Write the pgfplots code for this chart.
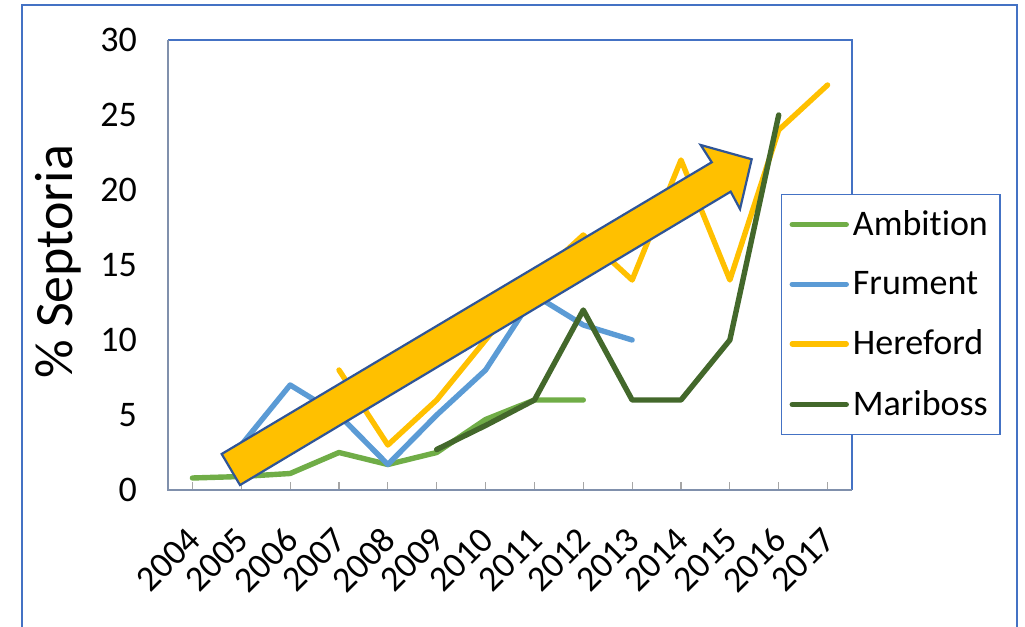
\documentclass[border=0pt]{standalone}
\usepackage{pgfplots}
\pgfplotsset{compat=1.18}
\usepackage{fontspec}
\setmainfont{Carlito}[Ligatures={NoCommon}]

\definecolor{cAmbition}{HTML}{70AD47}
\definecolor{cFrument}{HTML}{5B9BD5}
\definecolor{cHereford}{HTML}{FFC000}
\definecolor{cMariboss}{HTML}{43682B}
\definecolor{frameblue}{HTML}{4472C4}
\definecolor{axisgrey}{HTML}{8090AC}
\definecolor{arrowedge}{HTML}{2F5597}

\begin{document}
\begin{tikzpicture}
\useasboundingbox (0pt,0pt) rectangle (512.5pt,313.5pt);
% outer chart frame
\draw[frameblue, line width=0.8pt] (11pt,-10pt) rectangle (508.5pt,311pt);
\begin{axis}[
  at={(84pt,68.5pt)}, anchor=south west,
  scale only axis, width=342pt, height=225pt,
  xmin=2003.5, xmax=2017.5, ymin=0, ymax=30,
  clip=false,
  axis line style={draw=none},
  xtick={2004,2005,2006,2007,2008,2009,2010,2011,2012,2013,2014,2015,2016,2017},
  xticklabels={2004,2005,2006,2007,2008,2009,2010,2011,2012,2013,2014,2015,2016,2017},
  ytick={0,5,10,15,20,25,30},
  xtick pos=bottom, tick align=inside,
  major tick length=4pt,
  xtick style={draw=black!35, line width=0.6pt},
  ytick style={draw=none},
  tick label style={font=\fontsize{18}{21}\selectfont},
  /pgf/number format/assume math mode=true,
  yticklabel style={anchor=east, xshift=-12pt},
  xticklabel style={xshift=3.2pt, yshift=-19.5pt, rotate=45, anchor=east},
  ylabel={\% Septoria},
  ylabel style={at={(axis description cs:-0.161,0.507)}, anchor=center, font=\fontsize{27}{30}\selectfont},
  legend style={at={(axis description cs:0.896,0.658)}, anchor=north west,
    draw=frameblue, line width=0.7pt, fill=white,
    font=\fontsize{18}{21}\selectfont,
    inner xsep=4pt, inner ysep=6pt, row sep=12.3pt,
    cells={anchor=west}},
  legend image code/.code={\draw[#1, line cap=round] (0pt,0pt) -- (27pt,0pt);},
  every axis plot/.append style={line width=2.7pt, line cap=round, line join=round},
]
% plot-area frame: blue top and right, grey left and bottom
\draw[frameblue, line width=0.7pt] (rel axis cs:0,1) -- (rel axis cs:1,1) -- (rel axis cs:1,0);
\draw[axisgrey, line width=0.9pt] (rel axis cs:0,1) -- (rel axis cs:0,0) -- (rel axis cs:1,0);

\addplot[cAmbition] coordinates {
  (2004,0.8) (2005,0.9) (2006,1.1) (2007,2.5) (2008,1.7) (2009,2.5)
  (2010,4.7) (2011,6) (2012,6)};
\addlegendentry{Ambition}
\addplot[cFrument] coordinates {
  (2005,3) (2006,7) (2007,5) (2008,1.7) (2009,5) (2010,8)
  (2011,13) (2012,11) (2013,10)};
\addlegendentry{Frument}
\addplot[cHereford] coordinates {
  (2007,8) (2008,3) (2009,6) (2010,10) (2011,14) (2012,17)
  (2013,14) (2014,22) (2015,14) (2016,24) (2017,27)};
\addlegendentry{Hereford}
\addplot[cMariboss] coordinates {
  (2009,2.7) (2010,4.3) (2011,6) (2012,12) (2013,6) (2014,6)
  (2015,10) (2016,25)};
\addlegendentry{Mariboss}

% trend arrow
\draw[fill=cHereford, draw=arrowedge, line width=1.1pt, line join=miter]
  (axis cs:2004.599,2.4) -- (axis cs:2014.629,21.85) -- (axis cs:2014.403,23.0)
  -- (axis cs:2015.447,22.05) -- (axis cs:2015.208,18.73) -- (axis cs:2015.017,19.89)
  -- (axis cs:2004.974,0.33) -- cycle;
\end{axis}
\end{tikzpicture}
\end{document}
